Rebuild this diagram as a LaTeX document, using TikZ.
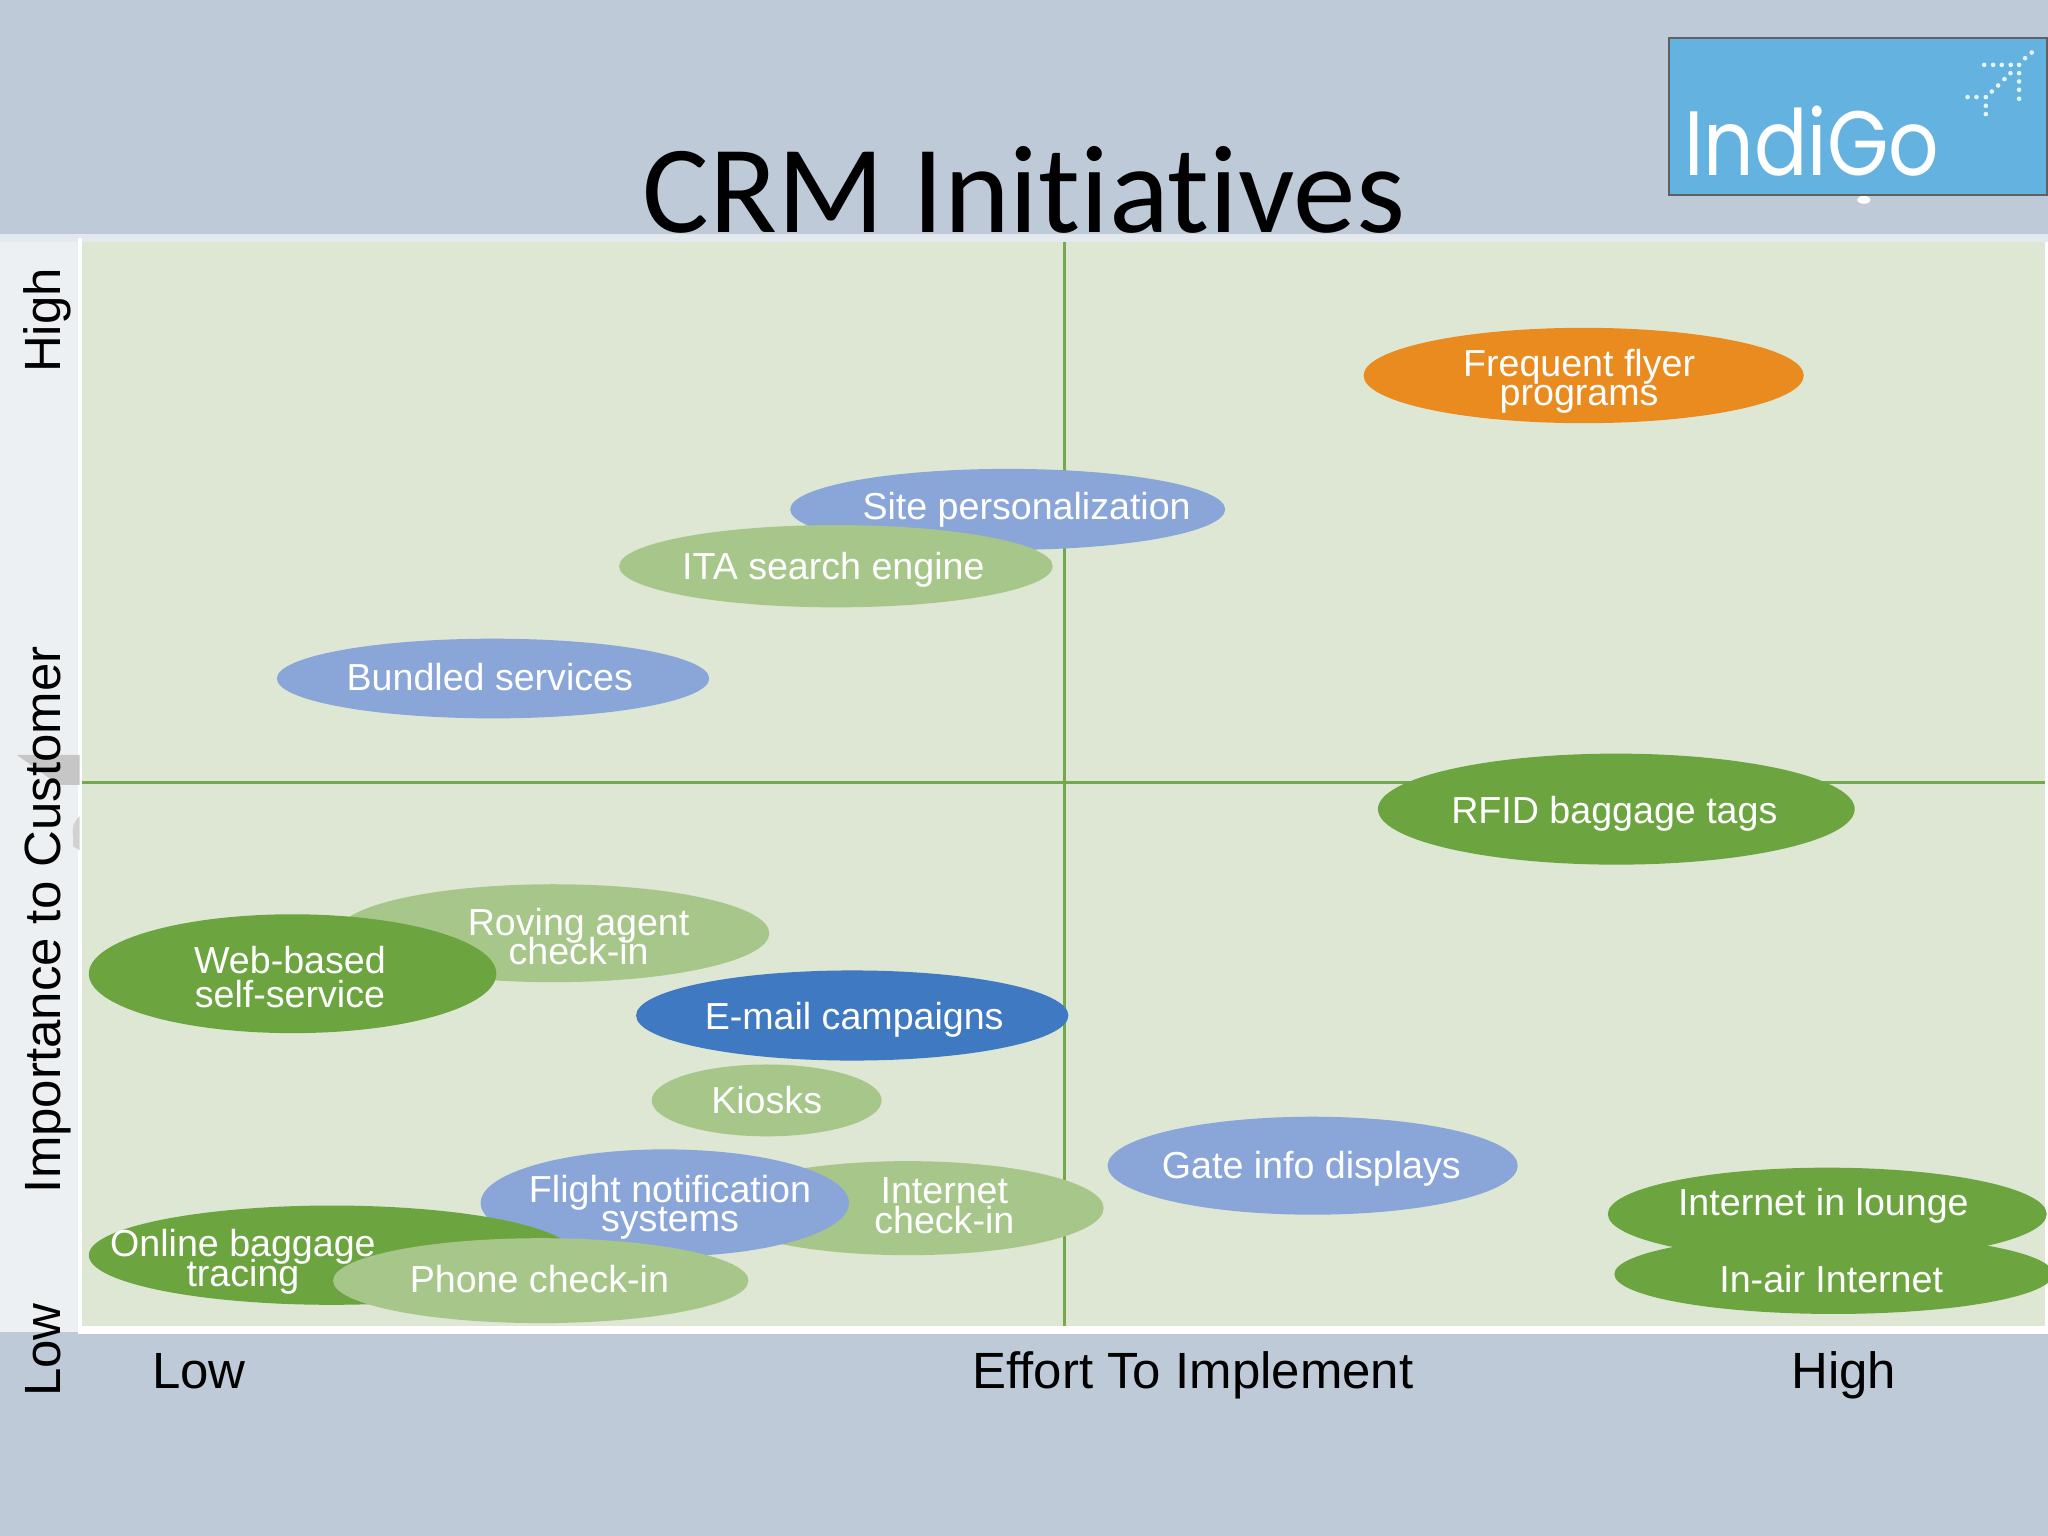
\documentclass[tikz,border=0pt]{standalone}
\usepackage{fontspec}
\setmainfont{Liberation Sans}
\newfontfamily\titlefont[Ligatures=NoCommon]{Carlito}
\newfontfamily\logofont{Poppins}
\usetikzlibrary{shapes.geometric}
\normallineskiplimit=-20pt
\lineskiplimit=-20pt
\AtBeginDocument{\normallineskiplimit=-20pt \lineskiplimit=-20pt }
\definecolor{bgc}{HTML}{BFCAD8}
\definecolor{stripc}{HTML}{EDF0F2}
\definecolor{bandc}{HTML}{E4E9EE}
\definecolor{plotc}{HTML}{DDE7D3}
\definecolor{gridc}{HTML}{72A94C}
\definecolor{orangec}{HTML}{EA8B20}
\definecolor{bluec}{HTML}{8AA6D9}
\definecolor{dbluec}{HTML}{3F79C2}
\definecolor{lgreenc}{HTML}{A7C68A}
\definecolor{greenc}{HTML}{6CA540}
\definecolor{logoc}{HTML}{63B2E0}
\definecolor{logoedge}{HTML}{606060}
\tikzset{
  ell/.style={ellipse,draw=none,inner sep=0pt,outer sep=0pt},
  lab/.style={text=white,align=center,inner sep=0pt,font=\fontsize{10.7pt}{8.4pt}\selectfont},
  axislab/.style={text=black,inner sep=0pt,font=\fontsize{14.5pt}{16pt}\selectfont},
  gridline/.style={draw=gridc,line width=0.85pt}
}
\newcommand{\ellip}[7]{% name, color, xmin, xmax, ymin, ymax
  \pgfmathsetmacro{\ew}{(#4-#3)*0.013061}
  \pgfmathsetmacro{\eh}{(#6-#5)*0.013061}
  \node[ell,fill=#2,minimum width=\ew cm,minimum height=\eh cm] (#1) at ({(#3+#4)/2},{(#5+#6)/2}) {};
}
\begin{document}
\begin{tikzpicture}[x=0.013061cm,y=-0.013061cm]
\useasboundingbox (0,0) rectangle (1568,1176);
\fill[bgc] (0,0) rectangle (1568,1176);
\fill[stripc] (0,180) rectangle (60,1020);
\fill[white] (1566,180) rectangle (1568,1020);
\fill[bandc] (0,179) rectangle (1568,185);
\fill[white] (60,182) rectangle (63,1021);
\fill[white] (60,1015) rectangle (1568,1021);
\fill[plotc] (63,185) rectangle (1566,1015);
% smudges
\fill[gray!45] (13,578) -- (61,578) -- (61,601) -- (45,601) -- cycle;
\fill[gray!35] (61,625) to[bend right=30] (56,640) -- (56,648) -- (61,651) -- cycle;
% grid
\coordinate (vt) at (815,185);
\coordinate (vb) at (815,1015);
\coordinate (hl) at (63,599);
\coordinate (hr) at (1566,599);
\draw[gridline] (vt) -- (vb);
\draw[gridline] (hl) -- (hr);
% ellipses
\ellip{eFreq}{orangec}{1044}{1381}{251}{324}{}
\ellip{eSite}{bluec}{605}{938}{359}{421}{}
\ellip{eITA}{lgreenc}{474}{806}{402}{465}{}
\ellip{eBund}{bluec}{212}{543}{489}{550}{}
\ellip{eRFID}{greenc}{1055}{1420}{577}{662}{}
\ellip{eRov}{lgreenc}{258}{589}{677}{752}{}
\ellip{eWeb}{greenc}{68}{380}{700}{791}{}
\ellip{eMail}{dbluec}{487}{818}{743}{812}{}
\ellip{eKiosk}{lgreenc}{499}{675}{815}{870}{}
\ellip{eICheck}{lgreenc}{545}{845}{889}{961}{}
\ellip{eFlight}{bluec}{368}{650}{880}{962}{}
\ellip{eGate}{bluec}{848}{1162}{855}{930}{}
\ellip{eOnline}{greenc}{68}{440}{923}{999}{}
\ellip{ePhone}{lgreenc}{255}{573}{948}{1013}{}
\ellip{eLounge}{greenc}{1231}{1567}{894}{965}{}
\begin{scope}
\clip (0,0) rectangle (1568,1176);
\ellip{eAir}{greenc}{1236}{1572}{945}{1006}{}
\end{scope}
% ellipse labels
\node[lab] (tFreq) at (1209,292) {Frequent flyer\\programs};
\node[lab] (tSite) at (786,390) {Site personalization};
\node[lab] (tITA) at (638,436) {ITA search engine};
\node[lab] (tBund) at (375,518) {Bundled services};
\node[lab] (tRFID) at (1236,623) {RFID baggage tags};
\node[lab] (tRov) at (443,717) {Roving agent\\check-in};
\node[lab,font=\fontsize{10.7pt}{9.6pt}\selectfont] (tWeb) at (222,748) {Web-based\\self-service};
\node[lab] (tMail) at (654,781) {E-mail campaigns};
\node[lab] (tKiosk) at (587,842) {Kiosks};
\node[lab] (tFlight) at (513,924.5) {Flight notification\\systems};
\node[lab] (tICheck) at (723,923) {Internet\\check-in};
\node[lab] (tGate) at (1004,895) {Gate info displays};
\node[lab] (tLounge) at (1396,923) {Internet in lounge};
\node[lab] (tAir) at (1402,979) {In-air Internet};
\node[lab] (tOnline) at (186,966) {Online baggage\\tracing};
\node[lab] (tPhone) at (413,979) {Phone check-in};
% axis labels
\node[axislab,anchor=base west] (xLow) at (116,1063) {Low};
\node[axislab,anchor=base west] (xMid) at (744,1063) {Effort To Implement};
\node[axislab,anchor=base west] (xHigh) at (1371,1063) {High};
\node[axislab,anchor=base west,rotate=90] (yHigh) at (46,286) {High};
\node[axislab,anchor=base west,rotate=90] (yMid) at (46,914) {Importance to Customer};
\node[axislab,anchor=base west,rotate=90] (yLow) at (46,1070) {Low};
% title
\node[anchor=base,inner sep=0pt,text=black,font=\titlefont\fontsize{35.6pt}{36pt}\selectfont] (title) at (784,178) {CRM Initiatives};
% logo
\fill[white] (1427,153) ellipse (5 and 3);
\node[draw=logoedge,fill=logoc,line width=0.6pt,minimum width=3.78cm,minimum height=1.575cm,inner sep=0pt,anchor=north west] (logo) at (1277,28) {};
\node[anchor=base west,inner sep=0pt,text=white,xscale=0.865,transform shape,font=\logofont\fontsize{26pt}{28pt}\selectfont] (logotext) at (1289,134) {IndiGo};
\begin{scope}[shift={(1225,0)},x=0.0033333cm,y=-0.0033333cm]
\foreach \dx/\dy in {1155/195,1182/195,1208/195,1235/195,1260/195,
  1178/275,1197/257,1216/238,1234/220,1278/175,1298/158,
  1260/220,1260/245,1260/270,1260/297,
  1105/292,1132/292,1160/292,1160/318,1160/343}
  \fill[white,fill opacity=0.85] (\dx,\dy) circle (7);
\end{scope}
\end{tikzpicture}
\end{document}
